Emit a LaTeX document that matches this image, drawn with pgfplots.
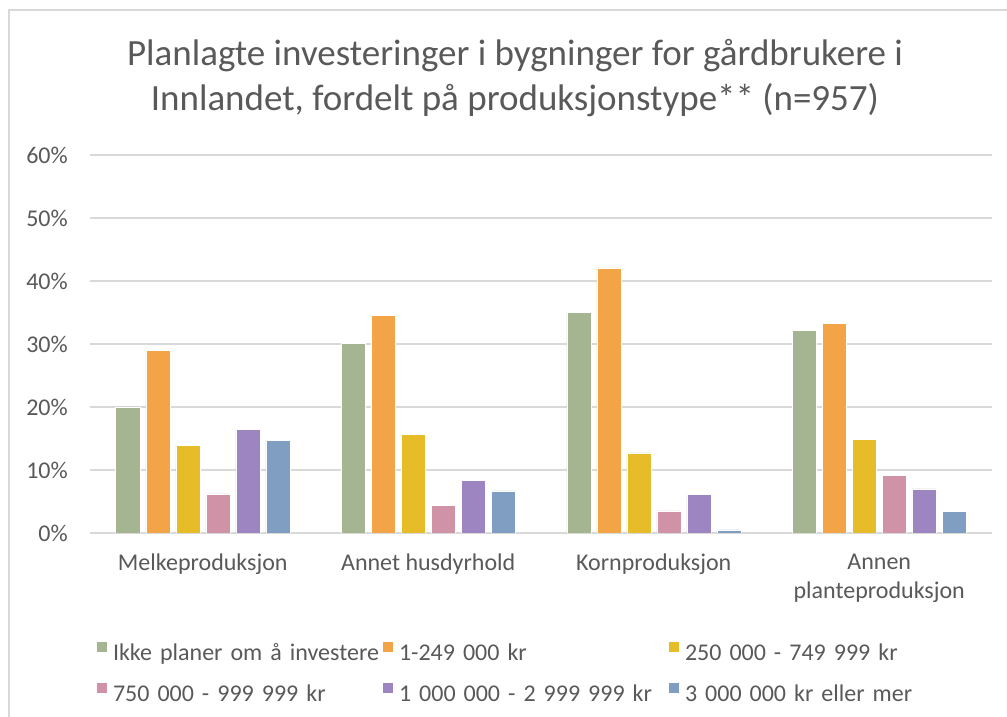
\documentclass[border=0pt]{standalone}
\usepackage{fontspec}
\setmainfont{Carlito}
\usepackage{pgfplots}
\pgfplotsset{compat=1.18}
\definecolor{cgreen}{HTML}{A5B592}
\definecolor{corange}{HTML}{F3A447}
\definecolor{cyellow}{HTML}{E7BC29}
\definecolor{cpink}{HTML}{D092A7}
\definecolor{cpurple}{HTML}{9C85C0}
\definecolor{cblue}{HTML}{809EC2}
\definecolor{txt}{HTML}{595959}
\definecolor{gridc}{HTML}{D9D9D9}
\begin{document}
\begin{tikzpicture}[x=1pt,y=1pt]
\path[use as bounding box] (0,0) rectangle (1007,717);
\draw[gridc, line width=1.5pt] (9,0) -- (9,707) -- (1007,707);
\node[anchor=base, font=\fontsize{37}{45}\selectfont, text=txt, inner sep=0pt] at (515,651) {Planlagte investeringer i bygninger for gårdbrukere i};
\node[anchor=base, font=\fontsize{37}{45}\selectfont, text=txt, inner sep=0pt] at (515,606) {Innlandet, fordelt på produksjonstype** (n=957)};
\begin{axis}[
  at={(90pt,184pt)}, anchor=south west,
  scale only axis, width=902pt, height=378pt,
  ybar=6pt, bar width=24pt,
  xmin=-0.5, xmax=3.5, ymin=0, ymax=60,
  xtick={0,1,2,3}, ytick={0,10,...,60},
  xticklabels={Melkeproduksjon, Annet husdyrhold, Kornproduksjon, {Annen\\planteproduksjon}},
  ymajorgrids, grid style={draw=gridc, line width=1.4pt},
  axis line style={draw=none},
  major tick length=0pt,
  /pgf/number format/assume math mode=true,
  tick label style={font=\fontsize{24}{29}\selectfont, text=txt},
  yticklabel={\pgfmathprintnumber{\tick}\%},
  yticklabel style={anchor=east, inner sep=0pt, xshift=-22pt},
  xticklabel style={anchor=north, inner sep=0pt, yshift=-21pt, align=center},
  legend columns=3,
  legend image code/.code={\path[#1, draw=none] (0pt,2pt) rectangle (10pt,12pt);},
  legend style={draw=none, fill=none, inner sep=0pt, outer sep=0pt,
    at={(0.00776,-0.2884)}, anchor=north west,
    font=\fontsize{24}{29}\selectfont, text=txt,
    column sep=0pt, row sep=18pt,
    /tikz/every odd column/.append style={column sep=6pt},
    /tikz/every even column/.append style={column sep=0pt},
    nodes={inner sep=0pt, text width=270pt, text height=17pt, text depth=5pt, align=left}},
  legend cell align=left,
]
\addplot[fill=cgreen, draw=white, line width=0.5pt] coordinates {(0,20.0) (1,30.1) (2,35.0) (3,32.2)};
\addplot[fill=corange, draw=white, line width=0.5pt] coordinates {(0,29.0) (1,34.6) (2,42.1) (3,33.3)};
\addplot[fill=cyellow, draw=white, line width=0.5pt] coordinates {(0,13.9) (1,15.7) (2,12.7) (3,14.9)};
\addplot[fill=cpink, draw=white, line width=0.5pt] coordinates {(0,6.2) (1,4.4) (2,3.5) (3,9.2)};
\addplot[fill=cpurple, draw=white, line width=0.5pt] coordinates {(0,16.4) (1,8.4) (2,6.1) (3,7.0)};
\addplot[fill=cblue, draw=white, line width=0.5pt] coordinates {(0,14.7) (1,6.7) (2,0.5) (3,3.4)};
\legend{Ikke planer om å investere, 1-249 000 kr, 250 000 - 749 999 kr, 750 000 - 999 999 kr, 1 000 000 - 2 999 999 kr, 3 000 000 kr eller mer}
\end{axis}
\end{tikzpicture}
\end{document}
